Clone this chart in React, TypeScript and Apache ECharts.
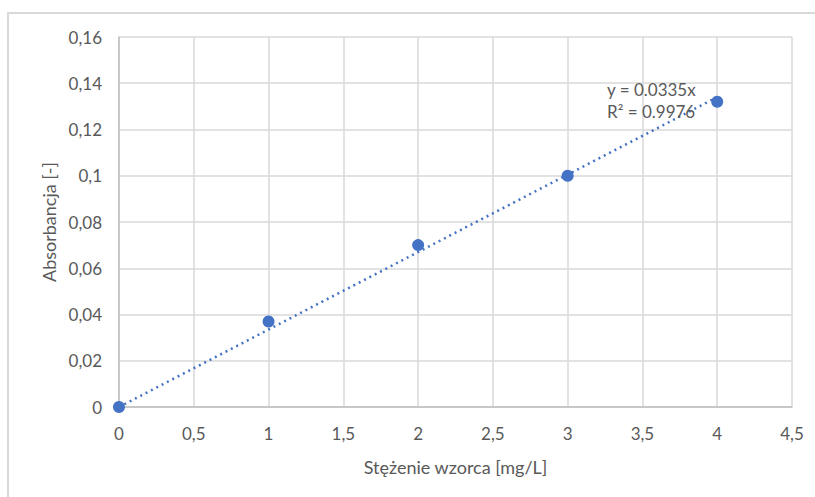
import React, { useEffect, useRef } from "react";
import * as echarts from "echarts";

const concentration = [0, 1, 2, 3, 4];
const absorbance = [0, 0.037, 0.07, 0.1, 0.132];
const trendX = [0, 4];
const trendY = [0, 0.134];
const equationLines = ["y = 0.0335x", "R² = 0.9976"];
const xTitle = "Stężenie wzorca [mg/L]";
const yTitle = "Absorbancja [-]";

const FONT = "Lato, 'Open Sans', sans-serif";
const TEXT = "#595959";
const BLUE = "#4472C4";

const fmt = (v: number) => String(parseFloat(v.toFixed(2))).replace(".", ",");

export default function App() {
  const ref = useRef<HTMLDivElement>(null);
  useEffect(() => {
    document.body.style.margin = "0";
    const chart = echarts.init(ref.current!, null, { renderer: "svg" });
    chart.setOption({
      animation: false,
      backgroundColor: "#ffffff",
      grid: { left: 119, top: 37, right: 23, bottom: 90 },
      xAxis: {
        type: "value",
        min: 0,
        max: 4.5,
        interval: 0.5,
        name: xTitle,
        nameLocation: "middle",
        nameGap: 51,
        nameTextStyle: { color: TEXT, fontFamily: FONT, fontSize: 18 },
        axisLine: { show: true, lineStyle: { color: "#bfbfbf", width: 1.5 } },
        axisTick: { show: false },
        axisLabel: { color: TEXT, fontFamily: FONT, fontSize: 17, margin: 18, formatter: fmt },
        splitLine: { show: true, lineStyle: { color: "#d9d9d9", width: 1.5 } },
      },
      yAxis: {
        type: "value",
        min: 0,
        max: 0.16,
        interval: 0.02,
        name: yTitle,
        nameLocation: "middle",
        nameGap: 60,
        nameTextStyle: { color: TEXT, fontFamily: FONT, fontSize: 18 },
        axisLine: { show: true, lineStyle: { color: "#bfbfbf", width: 1.5 } },
        axisTick: { show: false },
        axisLabel: { color: TEXT, fontFamily: FONT, fontSize: 17, margin: 17, formatter: fmt },
        splitLine: { show: true, lineStyle: { color: "#d9d9d9", width: 1.5 } },
      },
      series: [
        {
          type: "line",
          data: trendX.map((x, i) => [x, trendY[i]]),
          symbol: "none",
          lineStyle: { color: BLUE, width: 2.5, type: [2, 4] },
          z: 2,
        },
        {
          type: "scatter",
          data: concentration.map((x, i) => [x, absorbance[i]]),
          symbolSize: 12,
          itemStyle: { color: BLUE, opacity: 1 },
          z: 3,
        },
      ],
      graphic: [
        {
          type: "rect",
          shape: { x: 8, y: 13, width: 900, height: 600 },
          style: { fill: "none", stroke: "#d9d9d9", lineWidth: 2 },
          z: -1,
        },
        {
          type: "text",
          x: 607,
          y: 78,
          style: {
            text: equationLines.join("\n"),
            fill: TEXT,
            fontFamily: FONT,
            fontSize: 17,
            lineHeight: 22,
          },
          z: 10,
        },
      ],
    });
    return () => chart.dispose();
  }, []);
  return <div ref={ref} style={{ position: "absolute", left: 0, top: 0, width: 815, height: 497 }} />;
}
